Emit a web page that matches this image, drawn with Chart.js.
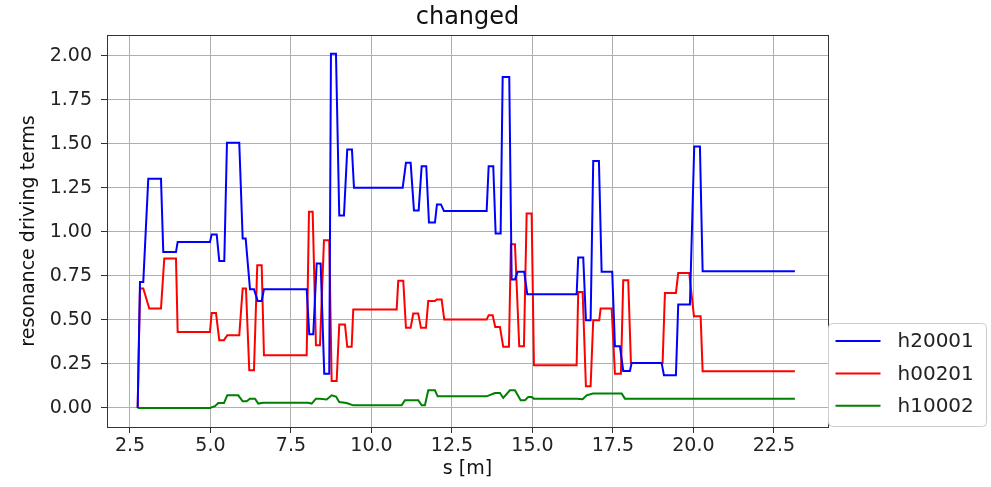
<!DOCTYPE html>
<html>
<head>
<meta charset="utf-8">
<script src="https://cdn.jsdelivr.net/npm/chart.js@4/dist/chart.umd.min.js"></script>
<style>
  html, body { margin: 0; padding: 0; background: #fff; }
  #wrap { width: 991px; height: 487px; position: relative; }
</style>
</head>
<body>
<div id="wrap"><canvas id="rdtChart"></canvas></div>
<script>
// s positions [m] and values for each resonance driving term
const sH20001 = [2.739, 2.811, 2.913, 3.068, 3.463, 3.534, 3.929, 3.981, 4.984, 5.037, 5.193, 5.273, 5.429, 5.512, 5.894,
  6.0, 6.093, 6.227, 6.351, 6.466, 6.590, 6.661, 7.988, 8.068, 8.193, 8.298, 8.422, 8.534, 8.689, 8.742, 8.898,
  9.0, 9.146, 9.248, 9.394, 9.457, 10.969, 11.071, 11.217, 11.320, 11.466, 11.559, 11.702, 11.786, 11.972,
  12.034, 12.158, 12.252, 13.578, 13.640, 13.783, 13.857, 14.012, 14.075, 14.280, 14.354, 14.457, 14.540, 14.745,
  14.839, 16.373, 16.422, 16.578, 16.661, 16.807, 16.888, 17.065, 17.149, 17.478, 17.562, 17.717, 17.820, 18.028,
  18.081, 19.012, 19.084, 19.457, 19.528, 19.891, 20.025, 20.202, 20.286, 23.152];
const h20001 = [0, 0.716, 0.716, 1.301, 1.301, 0.886, 0.886, 0.943, 0.943, 0.985, 0.985, 0.835, 0.835, 1.506, 1.506,
  0.962, 0.962, 0.674, 0.674, 0.608, 0.608, 0.674, 0.674, 0.419, 0.419, 0.820, 0.820, 0.195, 0.195, 2.012, 2.012,
  1.093, 1.093, 1.468, 1.468, 1.25, 1.25, 1.392, 1.392, 1.122, 1.122, 1.373, 1.373, 1.053, 1.053,
  1.156, 1.156, 1.118, 1.118, 1.373, 1.373, 0.991, 0.991, 1.88, 1.88, 0.730, 0.730, 0.773, 0.773,
  0.646, 0.646, 0.855, 0.855, 0.498, 0.498, 1.403, 1.403, 0.773, 0.773, 0.351, 0.351, 0.21, 0.21,
  0.256, 0.256, 0.186, 0.186, 0.587, 0.587, 1.485, 1.485, 0.777, 0.777];

const sH00201 = [2.739, 2.811, 2.913, 3.099, 3.463, 3.565, 3.929, 3.981, 4.984, 5.037, 5.171, 5.273, 5.419, 5.522, 5.894,
  6.0, 6.102, 6.205, 6.351, 6.453, 6.590, 6.661, 7.988, 8.059, 8.174, 8.276, 8.401, 8.525, 8.689, 8.764, 8.919,
  9.0, 9.177, 9.248, 9.385, 9.435, 10.783, 10.832, 10.988, 11.071, 11.217, 11.298, 11.453, 11.537, 11.693,
  11.764, 11.972, 12.025, 12.180, 12.261, 13.578, 13.640, 13.764, 13.845, 13.991, 14.093, 14.270, 14.332, 14.457,
  14.590, 14.736, 14.820, 14.975, 15.047, 16.373, 16.422, 16.559, 16.661, 16.807, 16.888, 17.075, 17.118, 17.460,
  17.562, 17.748, 17.820, 17.975, 18.059, 19.043, 19.115, 19.457, 19.528, 19.870, 20.016, 20.224, 20.286, 23.152];
const h00201 = [0, 0.678, 0.678, 0.565, 0.565, 0.849, 0.849, 0.432, 0.432, 0.540, 0.540, 0.385, 0.385, 0.413, 0.413,
  0.678, 0.678, 0.214, 0.214, 0.811, 0.811, 0.299, 0.299, 1.114, 1.114, 0.356, 0.356, 0.953, 0.953, 0.153, 0.153,
  0.474, 0.474, 0.347, 0.347, 0.559, 0.559, 0.722, 0.722, 0.455, 0.455, 0.536, 0.536, 0.455, 0.455,
  0.608, 0.608, 0.616, 0.616, 0.502, 0.502, 0.527, 0.527, 0.46, 0.46, 0.347, 0.347, 0.930, 0.930,
  0.351, 0.351, 1.105, 1.105, 0.243, 0.243, 0.659, 0.659, 0.123, 0.123, 0.498, 0.498, 0.565, 0.565,
  0.195, 0.195, 0.726, 0.726, 0.256, 0.256, 0.653, 0.653, 0.767, 0.767, 0.521, 0.521, 0.208, 0.208];

const sH10002 = [2.739, 4.984, 5.140, 5.242, 5.419, 5.522, 5.863, 6.0, 6.124, 6.227, 6.382, 6.484, 6.640, 8.037,
  8.143, 8.276, 8.401, 8.609, 8.764, 8.898, 9.0, 9.230, 9.435, 10.938, 11.040, 11.453, 11.559, 11.661, 11.764,
  11.972, 12.056, 13.578, 13.835, 13.991, 14.093, 14.301, 14.457, 14.634, 14.767, 14.870, 14.975, 15.047,
  16.373, 16.559, 16.683, 16.879, 17.770, 17.872, 23.152];
const h10002 = [0, 0, 0.01, 0.028, 0.028, 0.072, 0.072, 0.038, 0.038, 0.053, 0.053, 0.025, 0.03, 0.03,
  0.025, 0.053, 0.053, 0.048, 0.072, 0.065, 0.034, 0.028, 0.015, 0.015, 0.044, 0.044, 0.015, 0.015, 0.1,
  0.1, 0.066, 0.066, 0.085, 0.085, 0.057, 0.1, 0.1, 0.044, 0.044, 0.062, 0.062, 0.053,
  0.053, 0.05, 0.072, 0.082, 0.082, 0.053, 0.053];

const xTicks = [2.5, 5.0, 7.5, 10.0, 12.5, 15.0, 17.5, 20.0, 22.5];
const yTicks = [0, 0.25, 0.5, 0.75, 1.0, 1.25, 1.5, 1.75, 2.0];

const FONT = "'DejaVu Sans', sans-serif";

function toPoints(s, v) {
  return s.map((x, i) => ({ x: x, y: v[i] }));
}

// frame round the plot area (top and right spines)
const framePlugin = {
  id: 'frame',
  afterDatasetsDraw(chart) {
    const a = chart.chartArea;
    const ctx = chart.ctx;
    ctx.save();
    ctx.strokeStyle = '#333';
    ctx.lineWidth = 1;
    ctx.strokeRect(Math.round(a.left) + 0.5, Math.round(a.top) + 0.5,
      Math.round(a.right - a.left), Math.round(a.bottom - a.top));
    ctx.restore();
  }
};

// boxed legend sitting just outside the lower right corner
const boxLegend = {
  id: 'boxLegend',
  afterDraw(chart) {
    const ctx = chart.ctx;
    const a = chart.chartArea;
    const x0 = a.right + 0.5, y0 = 323.5, w = 158, h = 103, r = 4;
    ctx.save();
    ctx.beginPath();
    ctx.roundRect(x0, y0, w, h, r);
    ctx.fillStyle = 'rgba(255,255,255,0.8)';
    ctx.fill();
    ctx.strokeStyle = '#cccccc';
    ctx.lineWidth = 1;
    ctx.stroke();
    ctx.font = '20px ' + FONT;
    ctx.textBaseline = 'middle';
    ctx.fillStyle = '#222';
    chart.data.datasets.forEach((ds, i) => {
      const y = 341 + i * 32.4;
      ctx.beginPath();
      ctx.strokeStyle = ds.borderColor;
      ctx.lineWidth = 2;
      ctx.moveTo(x0 + 7, y);
      ctx.lineTo(x0 + 52, y);
      ctx.stroke();
      ctx.fillText(ds.label, x0 + 69, y + 1);
    });
    ctx.restore();
  }
};

const ctx = document.getElementById('rdtChart').getContext('2d');
const chart = new Chart(ctx, {
  type: 'line',
  data: {
    datasets: [
      { label: 'h20001', data: toPoints(sH20001, h20001), borderColor: '#0000ff' },
      { label: 'h00201', data: toPoints(sH00201, h00201), borderColor: '#ff0000' },
      { label: 'h10002', data: toPoints(sH10002, h10002), borderColor: '#008000' }
    ]
  },
  options: {
    responsive: true,
    maintainAspectRatio: false,
    animation: false,
    devicePixelRatio: 1,
    layout: { padding: { left: 0, right: 163, top: 0, bottom: 0 } },
    elements: {
      line: { borderWidth: 2, tension: 0, fill: false },
      point: { radius: 0 }
    },
    plugins: {
      legend: { display: false },
      tooltip: { enabled: false },
      title: {
        display: true,
        fullSize: false,
        text: 'changed',
        color: '#111',
        font: { family: FONT, size: 24, weight: 'normal' },
        padding: { top: 3, bottom: 3.2 }
      }
    },
    scales: {
      x: {
        type: 'linear',
        min: 1.786,
        max: 24.18,
        afterFit(scale) { scale.height = 60; },
        afterBuildTicks(scale) { scale.ticks = xTicks.map(v => ({ value: v })); },
        ticks: {
          color: '#222',
          font: { family: FONT, size: 19 },
          padding: 2,
          maxRotation: 0,
          callback: v => Number(v).toFixed(1)
        },
        grid: { color: '#b0b0b0', lineWidth: 1, tickLength: 6, tickColor: '#333' },
        border: { color: '#333', width: 1 },
        title: {
          display: true,
          text: 's [m]',
          color: '#111',
          font: { family: FONT, size: 19 },
          padding: { top: 0, bottom: 7 }
        }
      },
      y: {
        min: -0.108,
        max: 2.118,
        afterFit(scale) { scale.width = 107; },
        afterBuildTicks(scale) { scale.ticks = yTicks.map(v => ({ value: v })); },
        ticks: {
          color: '#222',
          font: { family: FONT, size: 19 },
          padding: 9,
          callback: v => Number(v).toFixed(2)
        },
        grid: { color: '#b0b0b0', lineWidth: 1, tickLength: 6, tickColor: '#333' },
        border: { color: '#333', width: 1 },
        title: {
          display: true,
          text: 'resonance driving terms',
          color: '#111',
          font: { family: FONT, size: 19 },
          padding: { top: 18, bottom: 0 }
        }
      }
    }
  },
  plugins: [framePlugin, boxLegend]
});
</script>
</body>
</html>
